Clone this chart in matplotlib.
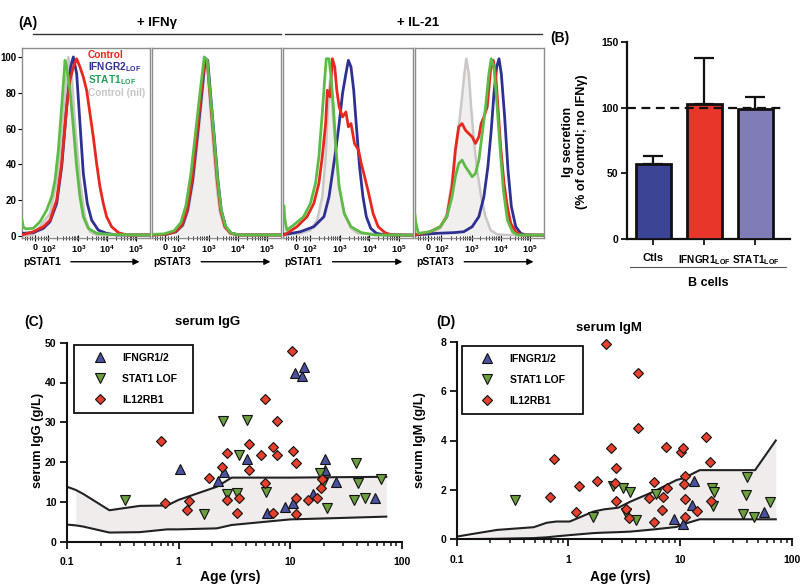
import matplotlib
matplotlib.use('Agg')
import matplotlib.pyplot as plt
import numpy as np
from matplotlib.lines import Line2D

W, H = 800, 588
plt.rcParams['font.family'] = ['Liberation Sans', 'DejaVu Sans']
plt.rcParams['font.weight'] = 'bold'
plt.rcParams['mathtext.fontset'] = 'custom'
plt.rcParams['mathtext.rm'] = 'Liberation Sans:bold'
plt.rcParams['mathtext.it'] = 'Liberation Sans:bold'
plt.rcParams['mathtext.bf'] = 'Liberation Sans:bold'
plt.rcParams['mathtext.sf'] = 'Liberation Sans:bold'

# ---------------- colours ----------------
C_RED = '#E8281E'
C_BLUE = '#2E3192'
C_GREEN = '#5DBB46'
C_GREY_FILL = '#F1EEEE'
C_GREY_EDGE = '#CBC7C7'

# ---------------- panel A: flow histograms (channel 0-1000, % of max) ----------------
hist_tick_pos = [100, 205, 440, 665, 890]
hist_tick_labels = ['0', '$10^{2}$', '$10^{3}$', '$10^{4}$', '$10^{5}$']
hist_xlabels = ['pSTAT1', 'pSTAT3', 'pSTAT1', 'pSTAT3']
hist_ytick_vals = [0, 20, 40, 60, 80, 100]

# panel 1: pSTAT1 + IFNg
p1_nil_x = [0, 88, 219, 271, 310, 349, 362, 388, 414, 453, 492, 531, 583, 1000]
p1_nil_y = [0, 0.6, 12.6, 31, 53.5, 90.7, 100, 90.7, 62.8, 31, 10.8, 2.4, 0.6, 0]
p1_ctrl_x = [0, 88, 167, 219, 271, 310, 349, 375, 401, 427, 453, 479, 505, 531, 557, 583, 609, 635, 661, 700, 753, 818, 1000]
p1_ctrl_y = [0.6, 2.4, 5.2, 8.9, 20.1, 40.5, 72.1, 87, 94.4, 99, 94.4, 88.8, 81.4, 68.4, 55.4, 40.5, 27.5, 18.2, 10.8, 5.2, 1.9, 0.6, 0.6]
p1_ifngr_x = [0, 88, 167, 219, 271, 310, 349, 380, 401, 427, 453, 479, 510, 544, 596, 661, 740, 1000]
p1_ifngr_y = [1.5, 1.9, 4.3, 8, 18.2, 38.7, 72.1, 94.4, 100, 90.7, 62.8, 34.9, 18.2, 8.9, 3.3, 1.5, 0.6, 0.6]
p1_stat1_x = [0, 10, 30, 88, 141, 193, 232, 258, 284, 310, 336, 349, 375, 401, 427, 453, 479, 518, 583, 688, 1000]
p1_stat1_y = [9, 5, 4, 4.3, 8, 14.5, 21.9, 31.2, 48, 72.1, 98.1, 94.4, 81.4, 61, 38.7, 21.9, 10.8, 4.3, 1.5, 0.9, 0.5]

# panel 2: pSTAT3 + IFNg
p2_nil_x = [0, 110, 188, 240, 279, 318, 357, 391, 411, 427, 450, 474, 499, 525, 560, 604, 670, 1000]
p2_nil_y = [0.5, 0.8, 2.2, 5.6, 13.5, 29.5, 55, 79, 97, 97, 74, 51, 29.5, 13.5, 4.8, 1.4, 0.5, 0.5]
p2_ctrl_x = [0, 102, 180, 232, 271, 310, 349, 383, 409, 427, 453, 479, 505, 531, 565, 609, 675, 1000]
p2_ctrl_y = [0.6, 0.9, 2.4, 6.1, 14.5, 31.2, 57.2, 81.4, 99, 98.1, 75.8, 53.5, 31.2, 14.5, 5.2, 1.5, 0.6, 0.6]
p2_ifngr_x = [0, 106, 185, 237, 276, 315, 354, 388, 413, 432, 458, 485, 511, 537, 571, 615, 680, 1000]
p2_ifngr_y = [0.6, 0.9, 2.4, 6.1, 14.5, 31.2, 57.2, 81.4, 99, 98.1, 75.8, 53.5, 31.2, 14.5, 5.2, 1.5, 0.6, 0.6]
p2_stat1_x = [0, 94, 172, 224, 263, 302, 341, 377, 405, 427, 455, 482, 508, 535, 570, 614, 680, 1000]
p2_stat1_y = [0.9, 1.2, 3.0, 7.5, 17, 35, 60, 83, 100, 98.5, 76.5, 54.5, 32, 15, 5.5, 1.6, 0.6, 0.6]

# panel 3: pSTAT1 + IL-21
p3_nil_x = [8, 133, 211, 263, 302, 328, 346, 362, 380, 406, 432, 471, 523, 576, 1000]
p3_nil_y = [0.6, 1.5, 3.3, 8.9, 21.9, 44.2, 72.1, 87, 72.1, 48, 27.5, 12.6, 4.3, 1.5, 0.6]
p3_ctrl_x = [8, 29, 107, 185, 237, 276, 302, 328, 341, 362, 380, 398, 414, 432, 458, 484, 503, 523, 550, 581, 602, 628, 659, 693, 732, 784, 836, 1000]
p3_ctrl_y = [0.6, 1.5, 5.2, 10.8, 18.2, 29.4, 44.2, 62.8, 81.4, 77.7, 99, 94.4, 81.4, 72.1, 66.5, 69.3, 61, 62.8, 51.7, 48, 40.5, 33.1, 23.8, 12.6, 5.2, 1.9, 0.6, 0.5]
p3_ifngr_x = [8, 29, 133, 237, 315, 354, 380, 406, 432, 458, 484, 503, 523, 544, 563, 589, 615, 641, 675, 719, 784, 1000]
p3_ifngr_y = [1.1, 1.1, 2.4, 5.2, 10.8, 21.9, 34.9, 48, 62.8, 79.6, 90.7, 98.1, 94.4, 81.4, 62.8, 38.7, 21.9, 10.8, 4.3, 1.5, 0.6, 0.5]
p3_stat1_x = [8, 13, 29, 81, 159, 211, 250, 276, 302, 320, 333, 354, 367, 388, 406, 432, 471, 523, 602, 706, 1000]
p3_stat1_y = [16.7, 10, 3.3, 6.1, 10.8, 18.2, 29.4, 44.2, 68.4, 87, 99, 99, 90.7, 72.1, 49.8, 27.5, 12.6, 5.2, 1.9, 0.6, 0.5]

# panel 4: pSTAT3 + IL-21
p4_nil_x = [0, 117, 195, 247, 287, 313, 339, 365, 383, 398, 417, 435, 456, 482, 513, 547, 586, 638, 716, 1000]
p4_nil_y = [0.6, 1.5, 4.3, 12.6, 31.2, 48, 61, 77.7, 90.7, 99, 90.7, 72.1, 53.5, 36.8, 21.9, 10.8, 3.3, 0.9, 0.6, 0.5]
p4_ctrl_x = [0, 117, 195, 247, 287, 313, 339, 365, 391, 417, 443, 469, 495, 513, 534, 560, 586, 607, 625, 643, 664, 690, 716, 742, 781, 820, 1000]
p4_ctrl_y = [0.6, 2.4, 5.2, 10.8, 27.5, 48, 61, 62.8, 59.1, 57.2, 55.4, 51.7, 55.4, 62.8, 66.5, 72.1, 92.6, 98.1, 90.7, 72.1, 49.8, 29.4, 16.4, 7.1, 2.4, 0.6, 0.5]
p4_ifngr_x = [0, 169, 300, 378, 443, 495, 534, 565, 591, 612, 633, 651, 669, 695, 721, 747, 781, 820, 859, 1000]
p4_ifngr_y = [0.6, 1.5, 1.9, 2.4, 5.2, 10.8, 21.9, 38.7, 59.1, 79.6, 94.4, 99, 90.7, 66.5, 36.8, 16.4, 5.2, 1.5, 0.6, 0.5]
p4_stat1_x = [0, 5, 26, 117, 195, 247, 287, 313, 339, 365, 391, 417, 443, 469, 495, 521, 547, 573, 591, 612, 633, 659, 685, 716, 755, 794, 1000]
p4_stat1_y = [11.7, 8, 1.5, 2.4, 5.2, 10.8, 21.9, 33.1, 40.5, 42.4, 38.7, 36, 33.1, 34.9, 42.4, 57.2, 72.1, 90.7, 99, 94.4, 75.8, 49.8, 25.7, 9, 2.4, 0.6, 0.5]

hist_data = [
    (p1_nil_x, p1_nil_y, p1_ctrl_x, p1_ctrl_y, p1_ifngr_x, p1_ifngr_y, p1_stat1_x, p1_stat1_y),
    (p2_nil_x, p2_nil_y, p2_ctrl_x, p2_ctrl_y, p2_ifngr_x, p2_ifngr_y, p2_stat1_x, p2_stat1_y),
    (p3_nil_x, p3_nil_y, p3_ctrl_x, p3_ctrl_y, p3_ifngr_x, p3_ifngr_y, p3_stat1_x, p3_stat1_y),
    (p4_nil_x, p4_nil_y, p4_ctrl_x, p4_ctrl_y, p4_ifngr_x, p4_ifngr_y, p4_stat1_x, p4_stat1_y),
]

# ---------------- panel B ----------------
b_categories = ['Ctls', 'IFNGR1$_{LOF}$', 'STAT1$_{LOF}$']
b_values = [57, 103, 99]
b_errors = [6.5, 35, 9.5]
b_colors = ['#3C4496', '#E8372A', '#7F7CB8']

# ---------------- panel C: serum IgG ----------------
c_band_age = [0.1, 0.12, 0.14, 0.24, 0.45, 0.79, 1.0, 2.2, 3.0, 10, 24, 73]
c_band_upper = [13.8, 13.0, 12.0, 7.9, 9.0, 9.1, 10.5, 13.8, 16.1, 16.1, 16.2, 16.3]
c_band_lower = [4.3, 4.1, 3.8, 2.3, 2.4, 3.1, 3.1, 3.35, 4.2, 5.6, 5.9, 6.3]

c_ifngr_age = [1.03, 2.28, 2.56, 4.1, 6.2, 9.0, 10.7, 11.1, 12.7, 13.4, 16.2, 20.6, 20.6, 25.8, 57.7]
c_ifngr_igg = [18.2, 15.3, 17.6, 20.7, 7.1, 8.6, 9.8, 42.5, 41.6, 44.0, 12.0, 20.9, 18.0, 14.9, 11.05]
c_stat1_age = [0.33, 1.70, 2.53, 2.71, 3.38, 3.51, 4.09, 6.1, 18.6, 19.6, 21.3, 39, 40.4, 37.5, 47, 66]
c_stat1_igg = [10.6, 6.9, 30.3, 12.1, 12.3, 21.8, 30.6, 12.6, 17.3, 14.7, 8.4, 19.7, 14.8, 10.5, 10.9, 15.7]
c_il12_age = [0.69, 0.76, 1.19, 1.25, 1.86, 2.44, 2.71, 2.74, 3.38, 3.51, 4.32, 4.32, 5.46, 5.97, 5.97,
              7.0, 7.0, 7.6, 7.6, 10.4, 10.7, 11.3, 11.3, 11.3, 14.6, 17.3, 18.8, 19.2]
c_il12_igg = [25.3, 9.8, 8.0, 10.3, 15.9, 18.8, 22.4, 10.6, 7.3, 10.9, 24.5, 18.0, 21.8, 35.8, 14.7,
              23.7, 7.3, 30.3, 21.8, 47.9, 22.8, 19.8, 11.1, 7.0, 10.6, 10.9, 13.4, 15.7]

# ---------------- panel D: serum IgM ----------------
d_band_age = [0.1, 0.23, 0.49, 0.64, 0.78, 1.03, 1.67, 2.07, 2.8, 3.57, 5.8, 9.3, 10.7, 15, 47, 72]
d_band_upper = [0.11, 0.38, 0.49, 0.67, 0.72, 0.72, 1.12, 1.21, 1.28, 1.52, 1.93, 2.4, 2.47, 2.8, 2.8, 4.0]
d_band_lower = [0.0, 0.02, 0.05, 0.08, 0.12, 0.17, 0.25, 0.27, 0.29, 0.31, 0.40, 0.50, 0.61, 0.81, 0.81, 0.81]

d_ifngr_age = [8.8, 10.7, 13.3, 12.7, 56.9]
d_ifngr_igm = [0.81, 0.62, 2.38, 1.39, 1.09]
d_stat1_age = [0.33, 1.67, 2.53, 3.1, 3.55, 3.3, 4.04, 6.1, 19.9, 19.3, 20.3, 39.5, 38.8, 36.5, 46.3, 64]
d_stat1_igm = [1.59, 0.92, 2.16, 2.06, 1.93, 1.05, 0.78, 1.84, 1.35, 2.06, 1.93, 2.51, 1.79, 1.01, 0.92, 1.52]
d_il12_age = [0.68, 0.74, 1.17, 1.25, 1.82, 2.17, 2.39, 2.67, 2.67, 2.6, 3.3, 3.46, 4.24, 4.24, 5.3, 5.8,
              5.9, 6.9, 7.1, 7.5, 7.6, 10.1, 10.7, 11.0, 10.8, 11.0, 11.0, 14.1, 17.1, 18.6, 19.0]
d_il12_igm = [1.73, 3.24, 1.12, 2.16, 2.38, 7.9, 3.68, 2.9, 1.55, 2.27, 1.21, 0.85, 6.75, 4.52, 1.69, 2.33,
              0.69, 1.19, 1.70, 3.75, 2.06, 3.55, 3.68, 2.56, 2.23, 1.62, 0.89, 1.16, 4.16, 3.14, 1.57]

group_labels = ['IFNGR1/2', 'STAT1 LOF', 'IL12RB1']
group_markers = ['^', 'v', 'D']
group_colors = ['#4A519E', '#6B9E3F', '#E5402D']
group_sizes = [7, 7, 5.3]

# ---------------- helpers ----------------
fig = plt.figure(figsize=(8, 5.88), dpi=100)


def rect(l, t, r, b):
    return [l / W, 1 - b / H, (r - l) / W, (b - t) / H]


def fx(x):
    return x / W


def fy(y):
    return 1 - y / H


# ---------------- panel A ----------------
hist_boxes = [(22, 150), (152, 281), (283, 413), (415, 544)]
decade_pos = [205, 440, 665, 890]
minor_ticks = [20, 40, 60, 80, 125, 150, 170, 188]
for i in range(3):
    for m in range(2, 10):
        minor_ticks.append(decade_pos[i] + np.log10(m) * (decade_pos[i + 1] - decade_pos[i]))

for k, ((l, r), data) in enumerate(zip(hist_boxes, hist_data)):
    ax = fig.add_axes(rect(l, 48, r, 238))
    nx, ny, cx, cy, bx, by, gx, gy = data
    ax.fill_between(nx, ny, 0, color=C_GREY_FILL, lw=0, zorder=1)
    ax.plot(nx, ny, color=C_GREY_EDGE, lw=1.8, zorder=2)
    ax.plot(bx, by, color=C_BLUE, lw=2.0, zorder=3)
    ax.plot(cx, cy, color=C_RED, lw=2.0, zorder=4)
    ax.plot(gx, gy, color=C_GREEN, lw=2.0, zorder=5)
    ax.set_xlim(0, 1000)
    ax.set_ylim(-1.1, 105)
    for s in ax.spines.values():
        s.set_color('#8C8C8C')
        s.set_linewidth(1.0)
    ax.set_xticks(hist_tick_pos)
    ax.set_xticklabels(hist_tick_labels, fontsize=6.5)
    ax.set_xticks(minor_ticks, minor=True)
    ax.tick_params(axis='x', which='major', direction='inout', length=4, width=0.8, pad=1.5, color='k')
    ax.tick_params(axis='x', which='minor', direction='inout', length=2.5, width=0.6, color='k')
    if k == 0:
        ax.set_yticks(hist_ytick_vals)
        ax.set_yticklabels([str(v) for v in hist_ytick_vals], fontsize=7)
        ax.tick_params(axis='y', direction='out', length=3, width=0.8, pad=1, color='k')
    else:
        ax.set_yticks([])
    ax.text(0.01, -0.125, hist_xlabels[k], transform=ax.transAxes, fontsize=7.5,
            ha='left', va='center')
    ax.annotate('', xy=(0.94, -0.125), xytext=(0.36, -0.125), xycoords='axes fraction',
                textcoords='axes fraction',
                arrowprops=dict(arrowstyle='-|>', color='k', lw=1.0, mutation_scale=9))
    if k == 0:
        leg_a = [('Control', C_RED, 55), ('IFNGR2$_{LOF}$', C_BLUE, 67.5),
                 ('STAT1$_{LOF}$', '#22A05A', 80), ('Control (nil)', '#C6C6C6', 93)]
        for txt, col, yy in leg_a:
            ax.text((88 - l) / (r - l), (238 - yy) / 190.0, txt, color=col, fontsize=7.3,
                    ha='left', va='center', transform=ax.transAxes, clip_on=True)

# headers
fig.text(fx(18), fy(23), '(A)', fontsize=10, ha='left', va='center')
fig.text(fx(157), fy(23), '+ IFNγ', fontsize=9.5, ha='center', va='center')
fig.text(fx(418), fy(23), '+ IL-21', fontsize=9.5, ha='center', va='center')
fig.add_artist(Line2D([fx(33), fx(281)], [fy(34), fy(34)], color='#333333', lw=1.0))
fig.add_artist(Line2D([fx(285), fx(542)], [fy(34), fy(34)], color='#333333', lw=1.0))

# ---------------- panel B ----------------
axb = fig.add_axes(rect(627, 42, 790, 239))
xb = np.arange(len(b_values))
axb.bar(xb, b_values, width=0.69, color=b_colors, edgecolor='#111111', linewidth=2.0, zorder=3)
axb.errorbar(xb, b_values, yerr=[np.zeros(len(b_errors)), b_errors], fmt='none',
             ecolor='#111111', elinewidth=1.6, capsize=7, capthick=1.6, zorder=2)
axb.axhline(100, xmin=0, xmax=0.95, color='#111111', lw=1.6, dashes=(4, 2.5), zorder=4)
axb.set_xlim(-0.52, 2.68)
axb.set_ylim(0, 150)
axb.set_yticks([0, 50, 100, 150])
axb.set_yticklabels(['0', '50', '100', '150'], fontsize=7.5)
axb.set_xticks(xb)
axb.set_xticklabels(b_categories, fontsize=7.2)
axb.get_xticklabels()[0].set_fontsize(8)
axb.tick_params(axis='both', direction='out', length=4, width=1.3, color='#111111', pad=2)
axb.tick_params(axis='x', pad=6)
for s in ['top', 'right']:
    axb.spines[s].set_visible(False)
for s in ['left', 'bottom']:
    axb.spines[s].set_linewidth(1.6)
    axb.spines[s].set_color('#111111')
fig.text(fx(575), fy(142), 'Ig secretion\n(% of control; no IFNγ)', rotation=90,
         fontsize=9, ha='center', va='center', linespacing=1.15)
fig.text(fx(550), fy(38), '(B)', fontsize=10, ha='left', va='center')
fig.add_artist(Line2D([fx(630), fx(786)], [fy(267), fy(267)], color='#555555', lw=0.8))
fig.text(fx(708), fy(283), 'B cells', fontsize=9, ha='center', va='center')


# ---------------- panels C, D ----------------
def serum_panel(box, band_age, band_up, band_lo, groups, ylim, yticks, title, title_xy,
                tag, tag_xy, ylabel, ylabel_x, xlabel_xy, legend_box):
    ax = fig.add_axes(rect(*box))
    ax.set_xscale('log')
    ax.set_xlim(0.1, 100)
    ax.set_ylim(*ylim)
    ba = np.array(band_age)
    ax.fill_between(band_age, band_lo, band_up, where=ba >= 0.115, interpolate=True,
                    color='#EFECEB', lw=0, zorder=1)
    ax.plot(band_age, band_up, color='#222222', lw=1.5, zorder=2)
    ax.plot(band_age, band_lo, color='#222222', lw=1.5, zorder=2)
    handles = []
    for (ages, vals), lab, mk, col, ms in zip(groups, group_labels, group_markers, group_colors, group_sizes):
        h, = ax.plot(ages, vals, linestyle='none', marker=mk, markersize=ms, markerfacecolor=col,
                     markeredgecolor='#111111', markeredgewidth=0.8, label=lab, zorder=3, clip_on=False)
        handles.append(h)
    ax.set_yticks(yticks)
    ax.set_yticklabels([str(v) for v in yticks], fontsize=7.5)
    ax.set_xticks([0.1, 1, 10, 100])
    ax.set_xticklabels(['0.1', '1', '10', '100'], fontsize=7.5)
    ax.xaxis.set_minor_locator(matplotlib.ticker.LogLocator(base=10, subs=np.arange(2, 10)))
    ax.xaxis.set_minor_formatter(matplotlib.ticker.NullFormatter())
    ax.tick_params(axis='both', which='major', direction='out', length=5, width=1.3,
                   color='#111111', pad=2.5)
    ax.tick_params(axis='x', which='minor', direction='out', length=3, width=1.1, color='#111111')
    ax.tick_params(axis='x', which='major', pad=6)
    for s in ['top', 'right']:
        ax.spines[s].set_visible(False)
    for s in ['left', 'bottom']:
        ax.spines[s].set_linewidth(1.5)
        ax.spines[s].set_color('#111111')
    fig.text(fx(title_xy[0]), fy(title_xy[1]), title, fontsize=9.5, ha='center', va='center')
    fig.text(fx(tag_xy[0]), fy(tag_xy[1]), tag, fontsize=10, ha='left', va='center')
    fig.text(fx(ylabel_x), fy(488), ylabel, fontsize=9.3, rotation=90, ha='center', va='bottom')
    fig.text(fx(xlabel_xy[0]), fy(xlabel_xy[1]), 'Age (yrs)', fontsize=10, ha='center', va='center')
    l, t, r, b = legend_box
    leg = ax.legend(handles=handles, loc='upper left',
                    bbox_to_anchor=(fx(l), fy(b), (r - l) / W, (b - t) / H),
                    bbox_transform=fig.transFigure, mode='expand', borderaxespad=0,
                    fontsize=7.5, frameon=True, fancybox=False, borderpad=0.75,
                    labelspacing=1.05, handlelength=3.4, handletextpad=0.45, numpoints=1)
    fr = leg.get_frame()
    fr.set_edgecolor('#111111')
    fr.set_linewidth(1.3)
    fr.set_facecolor('white')
    fr.set_alpha(1)
    return ax


serum_panel((67, 342.7, 401.5, 541.7), c_band_age, c_band_upper, c_band_lower,
            [(c_ifngr_age, c_ifngr_igg), (c_stat1_age, c_stat1_igg), (c_il12_age, c_il12_igg)],
            (0, 50), [0, 10, 20, 30, 40, 50], 'serum IgG', (208, 322), '(C)', (24, 322),
            'serum IgG (g/L)', 38, (230, 577), (74, 345, 193, 415))

serum_panel((456.7, 341.7, 791.7, 539.3), d_band_age, d_band_upper, d_band_lower,
            [(d_ifngr_age, d_ifngr_igm), (d_stat1_age, d_stat1_igm), (d_il12_age, d_il12_igm)],
            (0, 8), [0, 2, 4, 6, 8], 'serum IgM', (609, 328), '(D)', (436, 322),
            'serum IgM (g/L)', 420, (620, 577), (461.7, 346, 582.7, 415))

fig.savefig('out.png', dpi=100)
